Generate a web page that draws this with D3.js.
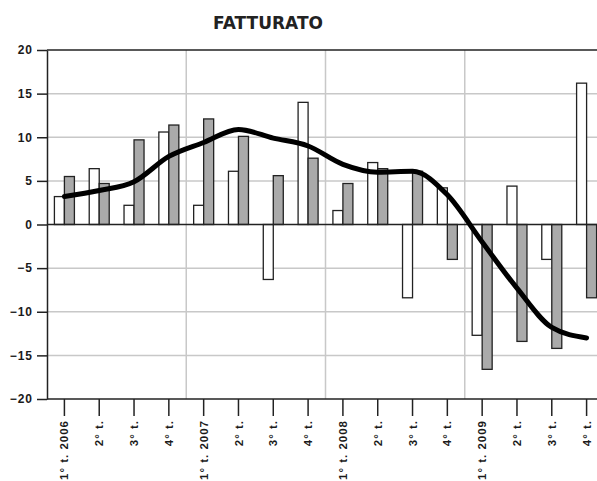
<!DOCTYPE html>
<html>
<head>
<meta charset="utf-8">
<script src="https://cdn.jsdelivr.net/npm/d3@7"></script>
<style>
  body { margin: 0; background: #fff; }
  svg { display: block; font-family: "DejaVu Sans", sans-serif; }
</style>
</head>
<body>
<div id="chart"></div>
<script>
// quarters on the x axis
let quarters = ["1° t. 2006", "2° t.", "3° t.", "4° t.",
                "1° t. 2007", "2° t.", "3° t.", "4° t.",
                "1° t. 2008", "2° t.", "3° t.", "4° t.",
                "1° t. 2009", "2° t.", "3° t.", "4° t."];

// white bars
let serie_a = [3.2, 6.4, 2.2, 10.6, 2.2, 6.1, -6.3, 14.0, 1.6, 7.1, -8.4, 4.2, -12.7, 4.4, -4.0, 16.2];
// gray bars
let serie_b = [5.5, 4.7, 9.7, 11.4, 12.1, 10.1, 5.6, 7.6, 4.7, 6.4, 6.1, -4.0, -16.6, -13.4, -14.2, -8.4];
// black trend line
let trend = [3.2, 3.9, 4.9, 7.8, 9.4, 10.9, 9.9, 9.0, 6.9, 6.0, 6.1, 3.4, -2.0, -7.3, -11.8, -13.0];

let yTicks = [-20, -15, -10, -5, 0, 5, 10, 15, 20];
let title = "FATTURATO";

document.addEventListener("DOMContentLoaded", function () {

    let W = 597, H = 481;
    let plot = { left: 47, right: 604, top: 50, bottom: 399 };

    let svg = d3.select("#chart").append("svg")
        .attr("width", W)
        .attr("height", H);

    let x = d3.scaleBand()
        .domain(d3.range(quarters.length))
        .range([plot.left, plot.right])
        .padding(0);

    let y = d3.scaleLinear()
        .domain([-20, 20])
        .range([plot.bottom, plot.top]);

    let barW = 10;

    // light gridlines
    svg.append("g")
        .selectAll("line")
        .data(yTicks.filter(v => v !== 0 && Math.abs(v) !== 20))
        .join("line")
            .attr("x1", plot.left).attr("x2", plot.right)
            .attr("y1", d => y(d)).attr("y2", d => y(d))
            .style("stroke", "#c8c8c8")
            .style("stroke-width", 1.5);

    svg.append("g")
        .selectAll("line")
        .data([4, 8, 12])
        .join("line")
            .attr("x1", d => x(d)).attr("x2", d => x(d))
            .attr("y1", plot.top).attr("y2", plot.bottom)
            .style("stroke", "#c8c8c8")
            .style("stroke-width", 1.5);

    // bars
    svg.append("g")
        .selectAll("rect")
        .data(serie_a)
        .join("rect")
            .attr("x", (d, i) => x(i) + x.bandwidth() / 2 - barW)
            .attr("y", d => y(Math.max(0, d)))
            .attr("width", barW)
            .attr("height", d => Math.abs(y(d) - y(0)))
            .style("fill", "#fff")
            .style("stroke", "#222")
            .style("stroke-width", 1.3);

    svg.append("g")
        .selectAll("rect")
        .data(serie_b)
        .join("rect")
            .attr("x", (d, i) => x(i) + x.bandwidth() / 2)
            .attr("y", d => y(Math.max(0, d)))
            .attr("width", barW)
            .attr("height", d => Math.abs(y(d) - y(0)))
            .style("fill", "#aaaaaa")
            .style("stroke", "#222")
            .style("stroke-width", 1.3);

    // dark frame lines: top, zero, bottom
    svg.append("g")
        .selectAll("line")
        .data([20, 0, -20])
        .join("line")
            .attr("x1", plot.left).attr("x2", plot.right)
            .attr("y1", d => y(d)).attr("y2", d => y(d))
            .style("stroke", "#222")
            .style("stroke-width", 1.5);

    // trend line
    let line = d3.line()
        .x((d, i) => x(i) + x.bandwidth() / 2)
        .y(d => y(d))
        .curve(d3.curveMonotoneX);

    svg.append("path")
        .datum(trend)
        .attr("d", line)
        .style("fill", "none")
        .style("stroke", "#000")
        .style("stroke-width", 5)
        .style("stroke-linecap", "round")
        .style("stroke-linejoin", "round");

    // y axis
    let yAxis = svg.append("g")
        .attr("transform", "translate(" + plot.left + ",0)")
        .call(d3.axisLeft(y).tickValues(yTicks).tickSize(10).tickSizeOuter(0).tickPadding(4));
    yAxis.selectAll("path, line").style("stroke", "#222").style("stroke-width", 1.5);
    yAxis.selectAll("text")
        .style("font-size", "12px")
        .style("font-weight", "bold")
        .style("letter-spacing", "1px")
        .style("fill", "#1a1a1a");

    // x axis
    let xAxis = svg.append("g")
        .attr("transform", "translate(0," + plot.bottom + ")")
        .call(d3.axisBottom(x).tickSize(17).tickFormat(i => quarters[i]));
    xAxis.select(".domain").remove();
    xAxis.selectAll("line").style("stroke", "#222").style("stroke-width", 1.5);
    xAxis.selectAll("text")
        .attr("transform", "rotate(-90)")
        .attr("x", -21)
        .attr("y", 0)
        .attr("dy", "0.35em")
        .style("text-anchor", "end")
        .style("font-size", "11.5px")
        .style("font-weight", "bold")
        .style("letter-spacing", "1px")
        .style("fill", "#1a1a1a");

    // title
    svg.append("text")
        .attr("x", 268)
        .attr("y", 29)
        .attr("text-anchor", "middle")
        .style("font-size", "17px")
        .style("font-weight", "bold")
        .style("fill", "#222")
        .text(title);
});
</script>
</body>
</html>
